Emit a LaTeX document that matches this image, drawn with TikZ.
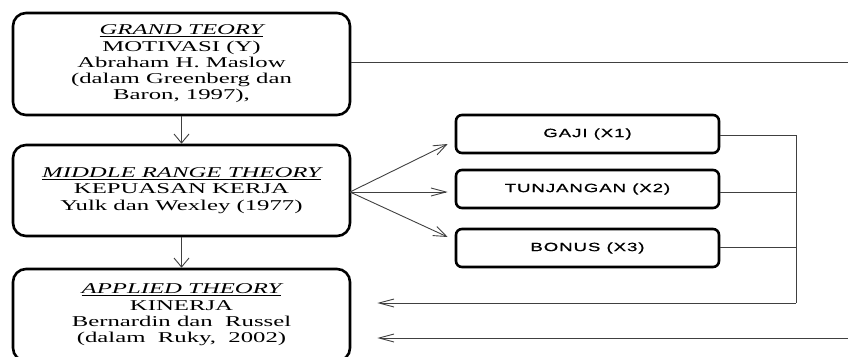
\documentclass[tikz,border=0pt]{standalone}
\usepackage{fontspec}
\setmainfont{Liberation Serif}
\newfontfamily\bigf[FakeStretch=1.65]{Liberation Serif}
\newfontfamily\smallf[FakeStretch=1.55,LetterSpace=8,FakeBold=0.8]{Liberation Sans}
\usetikzlibrary{arrows.meta}
\tikzset{
  bigbox/.style={draw=black, line width=2.6pt, rounded corners=13pt, minimum width=337pt, align=center, inner sep=0pt, font=\bigf\fontsize{15}{16.3}\selectfont},
  smallbox/.style={draw=black, line width=2.6pt, rounded corners=6pt, minimum width=263pt, minimum height=38pt, inner sep=0pt, font=\smallf\fontsize{12}{14}\selectfont},
  conn/.style={draw=black!75, line width=0.9pt},
  varr/.style={conn, -{Straight Barb[length=9pt,width=15pt]}},
  harr/.style={conn, -{Straight Barb[length=15pt,width=8pt]}},
  darr/.style={conn, -{Straight Barb[length=13pt,width=10pt]}}
}
\begin{document}
\begin{tikzpicture}[x=1pt,y=-1pt]
\useasboundingbox (0,0) rectangle (848,356);
\clip (0,0) rectangle (848,356);
\node[bigbox, minimum height=102pt] (b1) at (181.5,64) {\textit{\underline{GRAND TEORY}}\\MOTIVASI (Y)\\Abraham H. Maslow\\(dalam Greenberg dan\\Baron, 1997),};
\node[bigbox, minimum height=91pt] (b2) at (181.5,190.5) {\textit{\underline{MIDDLE RANGE THEORY}}\\KEPUASAN KERJA\\Yulk dan Wexley (1977)};
\node[bigbox, minimum height=92pt] (b3) at (181.5,315) {\textit{\underline{APPLIED THEORY}}\\KINERJA\\Bernardin dan\ \ Russel\\(dalam\ \ Ruky,\ \ 2002)};
\node[smallbox] (g) at (587.5,134) {GAJI (X1)};
\node[smallbox] (t) at (587.5,189) {TUNJANGAN (X2)};
\node[smallbox] (bo) at (587.5,248) {BONUS (X3)};
\coordinate (r1) at (848,62);
\coordinate (r2) at (848,338);
\coordinate (bus1) at (796,135);
\coordinate (bus2) at (796,192);
\coordinate (bus3) at (796,247);
\coordinate (bus4) at (796,303);
\coordinate (o2) at (350,192);
\draw[varr] (b1.south) -- (b2.north);
\draw[varr] (b2.south) -- (b3.north);
\draw[conn] (b1.east |- r1) -- (r1);
\draw[harr] (r2) -- ([xshift=26pt]b3.east |- r2);
\draw[darr] (o2) -- ([xshift=-7pt,yshift=-10pt]g.west);
\draw[harr] (o2) -- ([xshift=-7pt]t.west |- o2);
\draw[darr] (o2) -- ([xshift=-7pt,yshift=11pt]bo.west);
\draw[conn] (g.east |- bus1) -- (bus1) -- (bus4);
\draw[conn] (t.east |- bus2) -- (bus2);
\draw[conn] (bo.east |- bus3) -- (bus3);
\draw[harr] (bus4) -- ([xshift=26pt]b3.east |- bus4);
\end{tikzpicture}
\end{document}
